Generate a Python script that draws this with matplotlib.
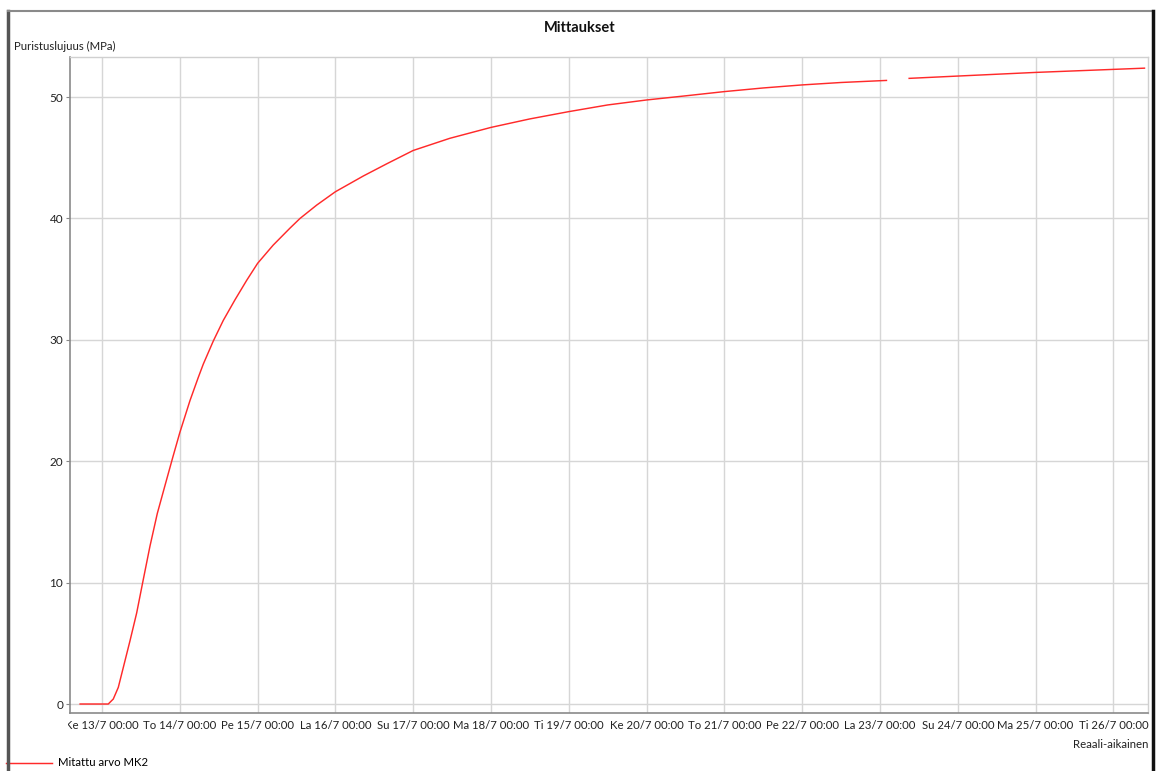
import pandas as pd
import numpy as np
import matplotlib
matplotlib.use('Agg')
import matplotlib.pyplot as plt
from matplotlib.lines import Line2D
from matplotlib.transforms import Bbox, TransformedBbox

plt.rcParams['font.family'] = ['Lato', 'DejaVu Sans']

# Mittausdata (MK2), luettu kuvasta
times = [
    '2022-07-12 17:15', '2022-07-13 00:00', '2022-07-13 01:56', '2022-07-13 03:29',
    '2022-07-13 05:02', '2022-07-13 06:34', '2022-07-13 08:38', '2022-07-13 10:42',
    '2022-07-13 12:33', '2022-07-13 14:48', '2022-07-13 17:04', '2022-07-13 19:26',
    '2022-07-13 21:49', '2022-07-14 00:00', '2022-07-14 03:09', '2022-07-14 05:42',
    '2022-07-14 07:15', '2022-07-14 10:20', '2022-07-14 13:25', '2022-07-14 17:02',
    '2022-07-14 20:38', '2022-07-15 00:00', '2022-07-15 04:48', '2022-07-15 09:59',
    '2022-07-15 13:05', '2022-07-15 18:14', '2022-07-16 00:00', '2022-07-16 04:19',
    '2022-07-16 08:38', '2022-07-16 15:50', '2022-07-17 00:00', '2022-07-17 11:17',
    '2022-07-18 00:00', '2022-07-18 12:00', '2022-07-19 00:00', '2022-07-19 12:00',
    '2022-07-20 00:00', '2022-07-20 12:00', '2022-07-21 00:00', '2022-07-21 12:00',
    '2022-07-22 00:00', '2022-07-22 12:00', '2022-07-23 02:00', '2022-07-23 05:00',
    '2022-07-23 09:00', '2022-07-24 00:00', '2022-07-25 00:00', '2022-07-26 00:00',
    '2022-07-26 09:36',
]
strength = [
    0.0, 0.0, 0.0, 0.41,
    1.37, 3.0, 5.2, 7.5,
    10.0, 13.0, 15.7, 18.0,
    20.3, 22.35, 25.0, 26.9,
    28.0, 29.9, 31.6, 33.3,
    34.9, 36.3, 37.8, 39.2,
    40.0, 41.1, 42.2, 42.85,
    43.5, 44.5, 45.6, 46.6,
    47.5, 48.2, 48.8, 49.35,
    49.76, 50.1, 50.45, 50.75,
    51.0, 51.2, 51.37, np.nan,
    51.54, 51.73, 52.03, 52.28,
    52.38,
]

tick_times = pd.date_range('2022-07-13', '2022-07-26', freq='D')
tick_labels = ['Ke 13/7 00:00', 'To 14/7 00:00', 'Pe 15/7 00:00', 'La 16/7 00:00',
               'Su 17/7 00:00', 'Ma 18/7 00:00', 'Ti 19/7 00:00', 'Ke 20/7 00:00',
               'To 21/7 00:00', 'Pe 22/7 00:00', 'La 23/7 00:00', 'Su 24/7 00:00',
               'Ma 25/7 00:00', 'Ti 26/7 00:00']
y_ticks = [0, 10, 20, 30, 40, 50]

df = pd.DataFrame({'t': pd.to_datetime(times), 'v': strength})

W, H = 1158, 771
fig = plt.figure(figsize=(W / 100, H / 100), dpi=100)
ax = fig.add_axes([70 / W, 1 - 713 / H, (1148 - 70) / W, (713 - 57) / H])

ax.plot(df['t'], df['v'], color='#ff2a2a', linewidth=1.05, label='Mitattu arvo MK2', zorder=3)

ax.set_xlim(pd.Timestamp('2022-07-12 14:08'), pd.Timestamp('2022-07-26 10:41'))
ax.set_ylim(-0.74, 53.3)
ax.set_xticks(tick_times)
ax.set_xticklabels(tick_labels, fontsize=8.2, color='#222222')
ax.set_yticks(y_ticks)
ax.set_yticklabels([str(v) for v in y_ticks], fontsize=8.5, color='#222222')
ax.tick_params(axis='x', length=0, pad=5)
ax.tick_params(axis='y', length=3, pad=2, color='#888888')
ax.grid(True, color='#d6d6d6', linewidth=1.0, zorder=0)

for side in ['left', 'bottom']:
    ax.spines[side].set_color('#8a8a8a')
    ax.spines[side].set_linewidth(1.2)
for side in ['top', 'right']:
    ax.spines[side].set_color('#d0d0d0')
    ax.spines[side].set_linewidth(1.0)

# ensimmäinen tikkiteksti leikkautuu vasemmasta reunasta
clip = TransformedBbox(Bbox.from_extents(68 / W, 0, 1, 1), fig.transFigure)
for lab in ax.get_xticklabels():
    lab.set_clip_box(clip)
    lab.set_clip_on(True)

fig.text(580 / W, 1 - 28 / H, 'Mittaukset', ha='center', va='center',
         fontsize=10.5, fontweight='bold', color='#111111')
fig.text(14 / W, 1 - 46 / H, 'Puristuslujuus (MPa)', ha='left', va='center',
         fontsize=8.2, color='#222222')
fig.text(1148 / W, 1 - 745 / H, 'Reaali-aikainen', ha='right', va='center',
         fontsize=8.2, color='#222222')

ax.legend(loc='center left', bbox_to_anchor=(6 / W, 1 - 763 / H),
          bbox_transform=fig.transFigure, frameon=False, fontsize=8.2,
          handlelength=4.0, handletextpad=0.6, borderpad=0, borderaxespad=0)

# ulkokehys
fig.add_artist(Line2D([8 / W, 8 / W], [0, 1 - 11 / H], color='#555555', linewidth=2.5))
fig.add_artist(Line2D([8 / W, 1153 / W], [1 - 11 / H, 1 - 11 / H], color='#8a8a8a', linewidth=1.5))
fig.add_artist(Line2D([1153 / W, 1153 / W], [0, 1 - 11 / H], color='#111111', linewidth=2.5))

plt.savefig('out.png', dpi=100, facecolor='white')
